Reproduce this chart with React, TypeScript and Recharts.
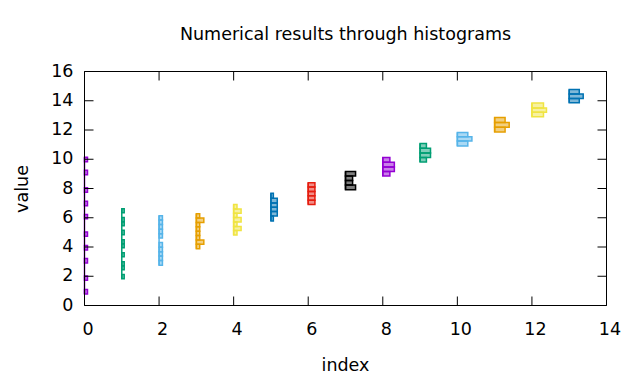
import React from 'react';
import { ComposedChart, XAxis, YAxis, ReferenceArea, ReferenceLine } from 'recharts';

const xTicks = [0, 2, 4, 6, 8, 10, 12, 14];
const yTicks = [0, 2, 4, 6, 8, 10, 12, 14, 16];
const groupIndex = [0, 1, 2, 3, 4, 5, 6, 7, 8, 9, 10, 11, 12, 13];
const palette = ['#9400D3', '#009E73', '#56B4E9', '#E69F00', '#F0E442', '#0072B2', '#E51E10', '#000000'];

type Bin = [number, number, number]; // [low, high, width]

const bins0: Bin[] = [
  [0.79, 1.09, 0.08], [1.72, 2.02, 0.08], [2.91, 3.21, 0.08], [3.8, 4.1, 0.08], [4.73, 5.03, 0.08],
  [5.93, 6.23, 0.08], [6.82, 7.12, 0.08], [7.75, 8.05, 0.08], [8.94, 9.24, 0.08], [9.83, 10.13, 0.08],
];
const bins1: Bin[] = [
  [1.83, 2.12, 0.065], [2.45, 2.72, 0.065], [2.72, 2.99, 0.065], [3.34, 3.61, 0.065], [3.95, 4.23, 0.065],
  [4.23, 4.5, 0.065], [4.84, 5.14, 0.065], [5.46, 5.73, 0.065], [5.73, 6.01, 0.065], [6.35, 6.62, 0.065],
];
const bins2: Bin[] = [
  [2.76, 3.07, 0.09], [3.07, 3.38, 0.09], [3.38, 3.68, 0.09], [3.68, 3.99, 0.09], [3.99, 4.3, 0.09],
  [4.61, 4.91, 0.09], [4.91, 5.22, 0.09], [5.22, 5.53, 0.09], [5.53, 5.84, 0.09], [5.84, 6.14, 0.09],
];
const bins3: Bin[] = [
  [3.88, 4.18, 0.09], [4.18, 4.48, 0.2], [4.48, 4.78, 0.09], [4.78, 5.08, 0.09],
  [5.08, 5.38, 0.09], [5.38, 5.68, 0.09], [5.68, 5.98, 0.2], [5.98, 6.28, 0.09],
];
const bins4: Bin[] = [
  [4.82, 5.12, 0.09], [5.12, 5.41, 0.2], [5.41, 5.71, 0.09], [5.71, 6.01, 0.2],
  [6.01, 6.31, 0.09], [6.31, 6.6, 0.2], [6.6, 6.9, 0.09],
];
const bins5: Bin[] = [
  [5.77, 6.12, 0.065], [6.12, 6.42, 0.17], [6.42, 6.71, 0.17], [6.71, 7.01, 0.17], [7.01, 7.33, 0.17], [7.33, 7.67, 0.065],
];
const bins6: Bin[] = [
  [6.9, 7.2, 0.18], [7.2, 7.5, 0.18], [7.5, 7.8, 0.18], [7.8, 8.1, 0.18], [8.1, 8.4, 0.18],
];
const bins7: Bin[] = [
  [7.92, 8.24, 0.27], [8.24, 8.54, 0.19], [8.54, 8.86, 0.19], [8.86, 9.16, 0.27],
];
const bins8: Bin[] = [
  [8.86, 9.16, 0.19], [9.16, 9.47, 0.31], [9.47, 9.79, 0.31], [9.79, 10.12, 0.19],
];
const bins9: Bin[] = [
  [9.82, 10.12, 0.17], [10.12, 10.43, 0.28], [10.43, 10.75, 0.28], [10.75, 11.08, 0.17],
];
const bins10: Bin[] = [
  [10.91, 11.25, 0.28], [11.25, 11.53, 0.39], [11.53, 11.83, 0.28],
];
const bins11: Bin[] = [
  [11.87, 12.19, 0.28], [12.19, 12.51, 0.39], [12.51, 12.86, 0.28],
];
const bins12: Bin[] = [
  [12.9, 13.22, 0.31], [13.22, 13.51, 0.39], [13.51, 13.84, 0.31],
];
const bins13: Bin[] = [
  [13.86, 14.16, 0.27], [14.16, 14.47, 0.375], [14.47, 14.77, 0.27],
];

const groups: Bin[][] = [bins0, bins1, bins2, bins3, bins4, bins5, bins6, bins7, bins8, bins9, bins10, bins11, bins12, bins13];

const FONT = '"DejaVu Sans", sans-serif';
const FS = 17.5;
const TICK_LEN = 9;

const LeftTick = (props: any) => {
  const { x, y, payload } = props;
  return (
    <g>
      <line x1={x} x2={x + TICK_LEN} y1={y} y2={y} stroke="#000" strokeWidth={1} />
      <text x={x - 11} y={y - 1} textAnchor="end" dominantBaseline="central" fontFamily={FONT} fontSize={FS} fill="#000">
        {payload.value}
      </text>
    </g>
  );
};
const RightTick = (props: any) => {
  const { x, y } = props;
  return <line x1={x - TICK_LEN} x2={x} y1={y} y2={y} stroke="#000" strokeWidth={1} />;
};
const BottomTick = (props: any) => {
  const { x, y, payload } = props;
  return (
    <g>
      <line x1={x} x2={x} y1={y} y2={y - TICK_LEN} stroke="#000" strokeWidth={1} />
      <text x={x + 3.5} y={y + 23} textAnchor="middle" dominantBaseline="central" fontFamily={FONT} fontSize={FS} fill="#000">
        {payload.value}
      </text>
    </g>
  );
};
const TopTick = (props: any) => {
  const { x, y } = props;
  return <line x1={x} x2={x} y1={y} y2={y + TICK_LEN} stroke="#000" strokeWidth={1} />;
};

export default function App() {
  const areas: React.ReactNode[] = [];
  const lines: React.ReactNode[] = [];
  groupIndex.forEach((gi) => {
    const color = palette[gi % palette.length];
    const bins = groups[gi];
    const lo = Math.min(...bins.map((b) => b[0]));
    const hi = Math.max(...bins.map((b) => b[1]));
    lines.push(
      <ReferenceLine
        key={`l${gi}`}
        segment={[{ x: gi, y: lo }, { x: gi, y: hi }]}
        stroke={color}
        strokeWidth={1.5}
      />
    );
    bins.forEach((b, k) => {
      areas.push(
        <ReferenceArea
          key={`a${gi}-${k}`}
          x1={gi}
          x2={gi + b[2]}
          y1={b[0]}
          y2={b[1]}
          fill={color}
          fillOpacity={0.5}
          stroke={color}
          strokeWidth={1.5}
          strokeOpacity={1}
        />
      );
    });
  });

  return (
    <div style={{ position: 'absolute', left: 0, top: 0, width: 640, height: 384, background: '#fff' }}>
      <ComposedChart
        width={640}
        height={384}
        margin={{ top: 70.5, right: 32.5, bottom: 77.5, left: 83.5 }}
      >
        <XAxis
          xAxisId={0}
          type="number"
          dataKey="x"
          domain={[0, 14]}
          ticks={xTicks}
          allowDataOverflow
          height={1}
          tickSize={0}
          tickMargin={0}
          tickLine={false}
          axisLine={{ stroke: '#000', strokeWidth: 1 }}
          tick={<BottomTick />}
          interval={0}
        />
        <XAxis
          xAxisId="top"
          orientation="top"
          type="number"
          dataKey="x"
          domain={[0, 14]}
          ticks={xTicks}
          allowDataOverflow
          height={1}
          tickSize={0}
          tickMargin={0}
          tickLine={false}
          axisLine={{ stroke: '#000', strokeWidth: 1 }}
          tick={<TopTick />}
          interval={0}
        />
        <YAxis
          yAxisId={0}
          type="number"
          dataKey="y"
          domain={[0, 16]}
          ticks={yTicks}
          allowDataOverflow
          width={1}
          tickSize={0}
          tickMargin={0}
          tickLine={false}
          axisLine={{ stroke: '#000', strokeWidth: 1 }}
          tick={<LeftTick />}
          interval={0}
        />
        <YAxis
          yAxisId="right"
          orientation="right"
          type="number"
          dataKey="y"
          domain={[0, 16]}
          ticks={yTicks}
          allowDataOverflow
          width={1}
          tickSize={0}
          tickMargin={0}
          tickLine={false}
          axisLine={{ stroke: '#000', strokeWidth: 1 }}
          tick={<RightTick />}
          interval={0}
        />
        {lines}
        {areas}
      </ComposedChart>
      <svg width={640} height={384} style={{ position: 'absolute', left: 0, top: 0, pointerEvents: 'none' }}>
        <text x={345.5} y={34} textAnchor="middle" dominantBaseline="central" fontFamily={FONT} fontSize={17.5} fill="#000">
          Numerical results through histograms
        </text>
        <text x={345.5} y={365} textAnchor="middle" dominantBaseline="central" fontFamily={FONT} fontSize={FS} fill="#000">
          index
        </text>
        <text
          x={22}
          y={189}
          textAnchor="middle"
          dominantBaseline="central"
          fontFamily={FONT}
          fontSize={FS}
          fill="#000"
          transform="rotate(-90 22 189)"
        >
          value
        </text>
      </svg>
    </div>
  );
}
